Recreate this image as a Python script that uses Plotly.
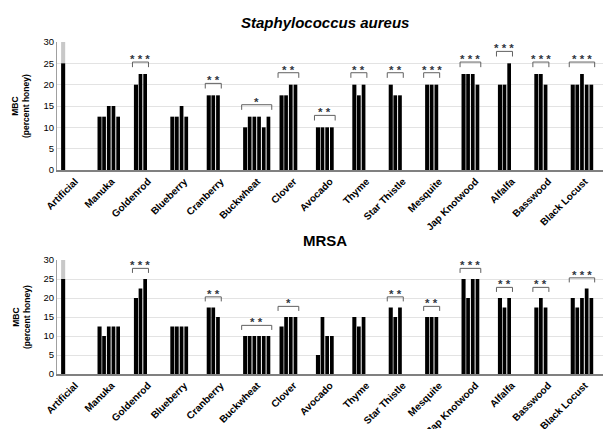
import plotly.graph_objects as go

honeys = ["Artificial", "Manuka", "Goldenrod", "Blueberry", "Cranberry", "Buckwheat",
          "Clover", "Avocado", "Thyme", "Star Thistle", "Mesquite", "Jap Knotwood",
          "Alfalfa", "Basswood", "Black Locust"]

sa_values = [
    [25],
    [12.5, 12.5, 15, 15, 12.5],
    [20, 22.5, 22.5],
    [12.5, 12.5, 15, 12.5],
    [17.5, 17.5, 17.5],
    [10, 12.5, 12.5, 12.5, 10, 12.5],
    [17.5, 17.5, 20, 20],
    [10, 10, 10, 10],
    [20, 17.5, 20],
    [20, 17.5, 17.5],
    [20, 20, 20],
    [22.5, 22.5, 22.5, 20],
    [20, 20, 25],
    [22.5, 22.5, 20],
    [20, 20, 22.5, 20, 20],
]
sa_sig = ["", "", "***", "", "**", "*", "**", "**", "**", "**", "***", "***", "***", "***", "***"]

mrsa_values = [
    [25],
    [12.5, 10, 12.5, 12.5, 12.5],
    [20, 22.5, 25],
    [12.5, 12.5, 12.5, 12.5],
    [17.5, 17.5, 15],
    [10, 10, 10, 10, 10, 10],
    [12.5, 15, 15, 15],
    [5, 15, 10, 10],
    [15, 12.5, 15],
    [17.5, 15, 17.5],
    [15, 15, 15],
    [25, 20, 25, 25],
    [20, 17.5, 20],
    [17.5, 20, 17.5],
    [20, 17.5, 20, 22.5, 20],
]
mrsa_sig = ["", "", "***", "", "**", "**", "*", "", "", "**", "**", "***", "**", "**", "***"]

artificial_range = [25, 30]

titles = ["<b><i>Staphylococcus aureus</i></b>", "<b>MRSA</b>"]

W, H = 605, 429
N_REP = 6
PITCH = 0.129
BAR_W = 0.102
START = -N_REP * PITCH / 2

fig = go.Figure()

def px_y(p):
    return 1 - p / H

panels = [
    (sa_values, sa_sig, "x", "y", 42, 170),
    (mrsa_values, mrsa_sig, "x2", "y2", 260, 374),
]

xs = list(range(len(honeys)))

for pi, (vals, sig, xa, ya, ptop, pbot) in enumerate(panels):
    # gray range for artificial honey
    fig.add_trace(go.Bar(
        x=[0], y=[artificial_range[1] - artificial_range[0]], base=[artificial_range[0]],
        offset=START, width=BAR_W + 0.01, marker=dict(color="#c8c8c8", line=dict(width=0)),
        xaxis=xa, yaxis=ya, showlegend=False, hoverinfo="skip"))
    for r in range(N_REP):
        yv = [v[r] if r < len(v) else None for v in vals]
        fig.add_trace(go.Bar(
            x=xs, y=yv, offset=START + r * PITCH, width=BAR_W + (0.01 if r == 0 else 0),
            marker=dict(color="#000000", line=dict(width=0)),
            xaxis=xa, yaxis=ya, showlegend=False))
    # significance brackets
    bx, by = [], []
    for i, (v, s) in enumerate(zip(vals, sig)):
        if not s:
            continue
        n = len(v)
        left = i + START - 0.04
        right = i + START + (n - 1) * PITCH + BAR_W + 0.04
        top = max(v) + 2.8
        bx += [left, left, right, right, None]
        by += [top - 1.2, top, top, top - 1.2, None]
        fig.add_annotation(x=(left + right) / 2, y=top, xref=xa, yref=ya,
                           text="<b>" + " ".join(s) + "</b>", showarrow=False, yanchor="bottom",
                           yshift=-5, font=dict(size=11.5, color="#2f3540", family="Liberation Sans"))
    fig.add_trace(go.Scatter(x=bx, y=by, mode="lines", line=dict(color="#606060", width=1),
                             xaxis=xa, yaxis=ya, showlegend=False, hoverinfo="skip"))
    # titles
    fig.add_annotation(x=325 / W, y=px_y(ptop - 19), xref="paper", yref="paper",
                       text=titles[pi], showarrow=False, xanchor="center", yanchor="middle",
                       font=dict(size=15, color="#000000", family="Liberation Sans"))
    fig.add_annotation(x=21 / W, y=px_y((ptop + pbot) / 2), xref="paper", yref="paper",
                       text="<b>MBC</b><br><b>(percent honey)</b>", showarrow=False,
                       textangle=-90, xanchor="center", yanchor="middle",
                       font=dict(size=8.5, color="#000000", family="Liberation Sans"))

axis_common_x = dict(
    range=[-0.5, 14.5], tickmode="array", tickvals=xs, ticktext=[f"<b>{h}</b>" for h in honeys],
    tickangle=-45, tickfont=dict(size=10, color="#000000", family="Liberation Sans"),
    showgrid=False, showline=True, linecolor="#808080", linewidth=1.5, ticks="",
    zeroline=False, automargin=False, domain=[57 / W, 603 / W], fixedrange=True)
axis_common_y = dict(
    range=[0, 30], tickvals=[0, 5, 10, 15, 20, 25, 30], showgrid=True, gridcolor="#e3e3e3",
    gridwidth=1.2, showline=True, linecolor="#a0a0a0", linewidth=1, ticks="",
    tickfont=dict(size=9.5, color="#000000", family="Liberation Sans"), zeroline=False,
    automargin=False, fixedrange=True)

fig.update_layout(
    width=W, height=H, margin=dict(l=0, r=0, t=0, b=0),
    paper_bgcolor="white", plot_bgcolor="white", barmode="overlay",
    xaxis=dict(axis_common_x, anchor="y"),
    yaxis=dict(axis_common_y, anchor="x", domain=[px_y(170), px_y(42)]),
    xaxis2=dict(axis_common_x, anchor="y2"),
    yaxis2=dict(axis_common_y, anchor="x2", domain=[px_y(374), px_y(260)]),
    font=dict(family="Liberation Sans"),
)

fig.write_html("out.html", config={"displayModeBar": False},
               post_script="document.body.style.margin='0';document.body.style.overflow='hidden';")
